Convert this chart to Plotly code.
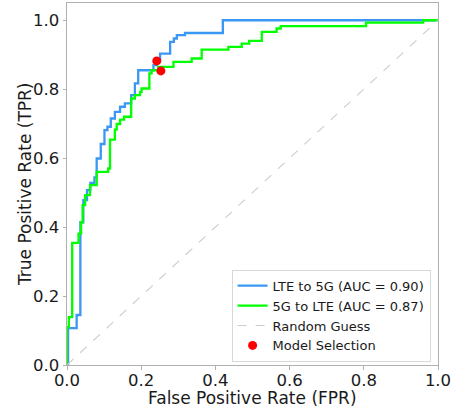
import plotly.graph_objects as go

# ROC corner points (FPR, TPR)
lte_to_5g_fpr = [0.0, 0.003, 0.026, 0.036, 0.044, 0.054, 0.063, 0.074, 0.080, 0.091,
                 0.101, 0.109, 0.118, 0.129, 0.143, 0.156, 0.173, 0.183, 0.192, 0.233,
                 0.242, 0.251, 0.278, 0.288, 0.296, 0.318, 0.420, 1.0]
lte_to_5g_tpr = [0.0, 0.107, 0.145, 0.414, 0.478, 0.507, 0.528, 0.544, 0.599, 0.641,
                 0.681, 0.691, 0.715, 0.734, 0.749, 0.759, 0.783, 0.817, 0.855, 0.870,
                 0.884, 0.903, 0.937, 0.947, 0.957, 0.963, 1.0, 1.0]

g5_to_lte_fpr = [0.0, 0.0, 0.005, 0.014, 0.031, 0.038, 0.042, 0.049, 0.062, 0.080,
                 0.111, 0.116, 0.129, 0.134, 0.143, 0.154, 0.173, 0.183, 0.197, 0.201,
                 0.222, 0.228, 0.246, 0.287, 0.336, 0.363, 0.435, 0.471, 0.491, 0.525,
                 0.565, 0.576, 0.806, 0.960, 1.0]
g5_to_lte_tpr = [0.0, 0.110, 0.139, 0.354, 0.381, 0.414, 0.464, 0.493, 0.522, 0.560,
                 0.570, 0.654, 0.683, 0.699, 0.712, 0.720, 0.773, 0.783, 0.792, 0.802,
                 0.846, 0.855, 0.865, 0.879, 0.889, 0.915, 0.923, 0.932, 0.940, 0.966,
                 0.976, 0.983, 0.993, 1.0, 1.0]

random_x = [0.0, 1.0]
random_y = [0.0, 1.0]

selection_fpr = [0.242, 0.253]
selection_tpr = [0.882, 0.853]

series_names = ["LTE to 5G (AUC = 0.90)", "5G to LTE (AUC = 0.87)", "Random Guess", "Model Selection"]
tick_vals = [0.0, 0.2, 0.4, 0.6, 0.8, 1.0]
tick_text = ["0.0", "0.2", "0.4", "0.6", "0.8", "1.0"]
x_title = "False Positive Rate (FPR)"
y_title = "True Positive Rate (TPR)"

FONT = "DejaVu Sans, Liberation Sans, sans-serif"
TXT = "#1a1a1a"

fig = go.Figure()
fig.add_trace(go.Scatter(x=lte_to_5g_fpr, y=lte_to_5g_tpr, mode="lines", line_shape="hv",
                         line=dict(color="#3a97f2", width=2.3), name=series_names[0]))
fig.add_trace(go.Scatter(x=g5_to_lte_fpr, y=g5_to_lte_tpr, mode="lines", line_shape="hv",
                         line=dict(color="#00ff00", width=2.3), name=series_names[1]))
fig.add_trace(go.Scatter(x=random_x, y=random_y, mode="lines",
                         line=dict(color="#cccccc", width=1.1, dash="dash"), name=series_names[2]))
fig.add_trace(go.Scatter(x=selection_fpr, y=selection_tpr, mode="markers",
                         marker=dict(color="red", size=9), name=series_names[3]))

axis_common = dict(
    showgrid=False, zeroline=False, showline=True, mirror=True, automargin=False,
    linecolor="#b0b0b0", linewidth=1, ticks="outside", ticklen=3.5, tickcolor="#b0b0b0",
    tickvals=tick_vals, ticktext=tick_text, tickfont=dict(size=16.5, color=TXT, family=FONT),
)

fig.update_layout(
    width=461, height=407,
    margin=dict(l=67, r=23, t=3, b=42),
    paper_bgcolor="white", plot_bgcolor="white",
    font=dict(family=FONT, color=TXT),
    xaxis=dict(range=[0, 1], ticklabelstandoff=-3, **axis_common),
    yaxis=dict(range=[0, 1.05], **axis_common),
    legend=dict(x=0.98, y=0.009, xanchor="right", yanchor="bottom",
                bgcolor="rgba(255,255,255,0.85)", bordercolor="#d8d8d8", borderwidth=1,
                font=dict(size=13, family=FONT, color=TXT), tracegroupgap=0),
    showlegend=True,
    annotations=[
        dict(text=x_title, xref="paper", yref="paper", x=0.5, y=-0.09,
             xanchor="center", yanchor="middle", showarrow=False,
             font=dict(size=17, family=FONT, color=TXT)),
        dict(text=y_title, xref="paper", yref="paper", x=-0.113, y=0.5,
             xanchor="center", yanchor="middle", showarrow=False, textangle=-90,
             font=dict(size=17, family=FONT, color=TXT)),
    ],
)

fig.write_html("out.html", config={"displayModeBar": False},
               post_script="document.body.style.margin='0';document.body.style.overflow='hidden';")
